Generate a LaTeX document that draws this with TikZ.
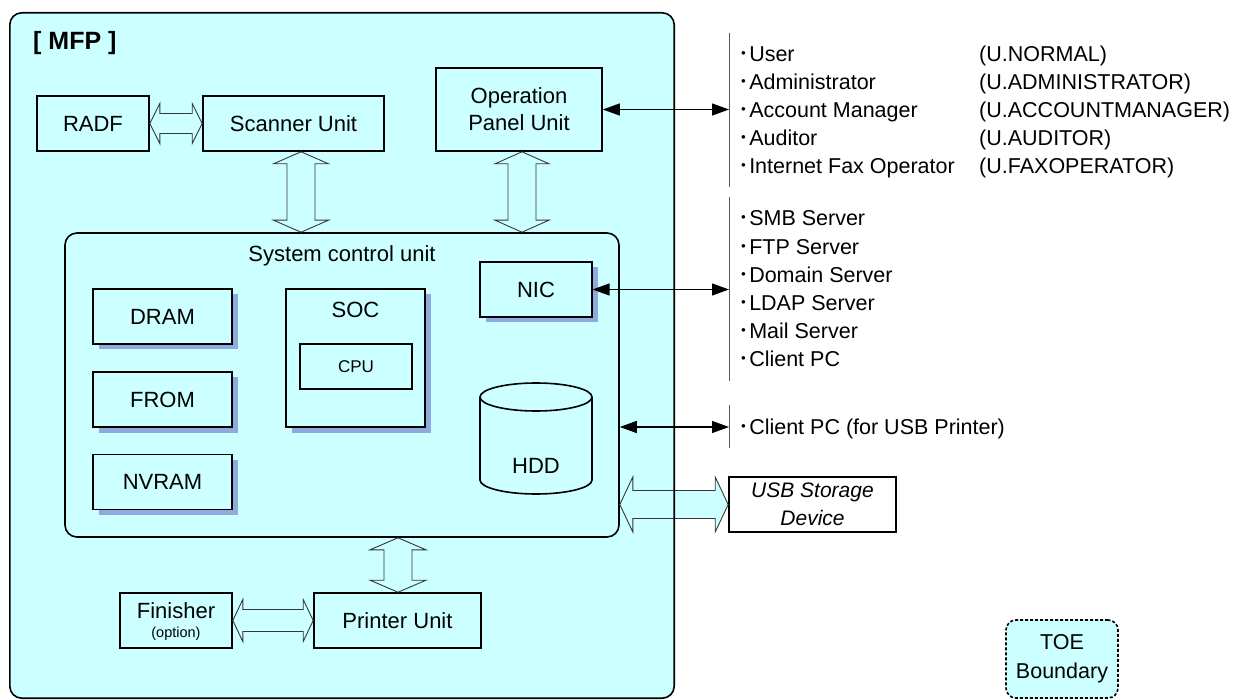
\documentclass[tikz,border=0pt]{standalone}
\usepackage{fontspec}
\setmainfont{Liberation Sans}
\newfontfamily\cjk{Noto Sans CJK JP}
\usetikzlibrary{arrows.meta,shadows,calc}
\definecolor{mfpc}{RGB}{204,255,255}
\definecolor{shc}{RGB}{143,170,220}
\definecolor{blkline}{RGB}{55,55,55}
\newcommand\fs[1]{\fontsize{#1}{#1}\selectfont}
\newcommand\bul{{\cjk ･}}
\newcommand\vblk[5]{%
 \path[blk] let \p1=#1, \p2=#2 in
  (\x1,\y1) -- (\x1+#4,\y1-#5) -- (\x1+#3,\y1-#5) -- (\x1+#3,\y2+#5) -- (\x1+#4,\y2+#5)
  -- (\x1,\y2) -- (\x1-#4,\y2+#5) -- (\x1-#3,\y2+#5) -- (\x1-#3,\y1-#5) -- (\x1-#4,\y1-#5) -- cycle;}
\newcommand\hblk[5]{%
 \path[blk] let \p1=#1, \p2=#2 in
  (\x1,\y1) -- (\x1+#5,\y1+#4) -- (\x1+#5,\y1+#3) -- (\x2-#5,\y1+#3) -- (\x2-#5,\y1+#4)
  -- (\x2,\y1) -- (\x2-#5,\y1-#4) -- (\x2-#5,\y1-#3) -- (\x1+#5,\y1-#3) -- (\x1+#5,\y1-#4) -- cycle;}
\tikzset{
 box/.style={draw=black, line width=1.6pt, fill=mfpc, inner sep=0pt, font=\fs{22}},
 ibox/.style={draw=black, line width=1.1pt, fill=mfpc, inner sep=0pt, font=\fs{22}},
 shad/.style={general shadow={fill=shc, shadow xshift=5.5pt, shadow yshift=-5.5pt}},
 lbl/.style={inner sep=0pt, font=\fs{22}},
 lst/.style={inner sep=0pt, anchor=base west, font=\fs{21.5}},
 blk/.style={draw=blkline, line width=0.9pt, fill=mfpc, line join=miter},
 dbl/.style={line width=1.2pt, {Triangle[length=17pt,width=12pt]}-{Triangle[length=17pt,width=12pt]}},
 sepline/.style={draw=black!65, line width=1pt}
}
\begin{document}
\begin{tikzpicture}[x=1pt,y=-1pt]
\useasboundingbox (0,0) rectangle (1234,700);
% MFP background
\node[fill=mfpc, minimum width=664, minimum height=685, inner sep=0pt, rounded corners=12pt] (mfp) at (342,355.5) {};
\node[lbl, anchor=base west, font=\fs{25}\bfseries] (mfpt) at (33,49.5) {[ MFP ]};

\node[box, minimum width=112, minimum height=55] (radf) at (93,123.5) {RADF};
\node[box, minimum width=181, minimum height=55] (scan) at (293.5,123.5) {Scanner Unit};
\node[box, minimum width=166, minimum height=83, align=center, font=\fontsize{22}{27}\selectfont] (op) at (519,109.5) {Operation\\Panel Unit};

% system control unit
\node[box, rounded corners=12pt, minimum width=554, minimum height=304] (scu) at (342,385) {};
\node[lbl] (scut) at (342,256) {System control unit};
\node[ibox, shad, minimum width=139, minimum height=55] (dram) at (162.5,316.5) {DRAM};
\node[ibox, shad, minimum width=139, minimum height=55] (from) at (162.5,399.5) {FROM};
\node[ibox, shad, minimum width=139, minimum height=55] (nvram) at (162.5,482) {NVRAM};
\node[ibox, shad, minimum width=139, minimum height=138] (soc) at (355.5,358) {};
\node[lbl] (soct) at (355.5,310) {SOC};
\node[ibox, minimum width=112, minimum height=45, font=\fs{17}] (cpu) at (356,366.5) {CPU};
\node[ibox, shad, minimum width=112, minimum height=55] (nic) at (536,289.5) {NIC};
% HDD cylinder
\draw[line width=1.6pt, fill=mfpc] (480,397) -- (480,480)
  .. controls (480,487.73) and (505.07,494) .. (536,494)
  .. controls (566.93,494) and (592,487.73) .. (592,480) -- (592,397)
  .. controls (592,389.27) and (566.93,383) .. (536,383)
  .. controls (505.07,383) and (480,389.27) .. (480,397) -- cycle;
\draw[line width=1.6pt] (480,397) .. controls (480,404.73) and (505.07,411) .. (536,411)
  .. controls (566.93,411) and (592,404.73) .. (592,397);
\node[lbl] (hdd) at (536,466) {HDD};

% finisher / printer
\node[box, minimum width=112, minimum height=55] (fin) at (176,620.5) {};
\node[lbl] (fint) at (176,611) {Finisher};
\node[lbl, font=\fs{14.5}] (fino) at (176,634) {(option)};
\node[box, minimum width=167, minimum height=55] (prn) at (397.5,620.5) {Printer Unit};

% USB storage
\node[box, fill=white, minimum width=167, minimum height=55, align=center, font=\fontsize{21}{28}\selectfont\itshape] (usb) at (812.5,504.5) {USB Storage\\Device};

% hollow block arrows
\coordinate (av1) at (301,0);
\coordinate (av2) at (522,0);
\coordinate (av3) at (398,0);
\vblk{(scan.south -| av1)}{(scu.north -| av1)}{14pt}{27.5pt}{12pt}
\vblk{(op.south -| av2)}{(scu.north -| av2)}{14pt}{27pt}{12pt}
\vblk{(scu.south -| av3)}{(prn.north -| av3)}{14pt}{28pt}{12pt}
\hblk{(radf.east)}{(scan.west)}{10pt}{20pt}{10pt}
\hblk{(fin.east)}{(prn.west)}{11pt}{21pt}{10pt}
\hblk{(scu.east |- usb.west)}{(usb.west)}{14pt}{27.5pt}{13pt}

% MFP border on top
\draw[line width=1.6pt, rounded corners=12pt] (mfp.north west) rectangle (mfp.south east);

% separator lines
\coordinate (l1t) at (729,33);  \coordinate (l1b) at (729,187);
\coordinate (l2t) at (729,197); \coordinate (l2b) at (729,381);
\coordinate (l3t) at (729,405); \coordinate (l3b) at (729,448);
\draw[sepline] (l1t) -- (l1b);
\draw[sepline] (l2t) -- (l2b);
\draw[sepline] (l3t) -- (l3b);

% thin arrows
\draw[dbl] (op.east) -- (op.east -| l1t);
\draw[dbl] (nic.east) -- (nic.east -| l2t);
\coordinate (cp) at (729,427);
\draw[dbl] (scu.east |- cp) -- (cp);

% user list
\node[lst] (u1) at (738.3,61.7) {\bul User};
\node[lst] (u2) at (738.3,89.7) {\bul Administrator};
\node[lst] (u3) at (738.3,117.7) {\bul Account Manager};
\node[lst] (u4) at (738.3,145.7) {\bul Auditor};
\node[lst] (u5) at (738.3,173.7) {\bul Internet Fax Operator};
\node[lst] (r1) at (979,61.7) {(U.NORMAL)};
\node[lst] (r2) at (979,89.7) {(U.ADMINISTRATOR)};
\node[lst] (r3) at (979,117.7) {(U.ACCOUNTMANAGER)};
\node[lst] (r4) at (979,145.7) {(U.AUDITOR)};
\node[lst] (r5) at (979,173.7) {(U.FAXOPERATOR)};
% server list
\node[lst] (s1) at (738.3,226) {\bul SMB Server};
\node[lst] (s2) at (738.3,254.3) {\bul FTP Server};
\node[lst] (s3) at (738.3,282.6) {\bul Domain Server};
\node[lst] (s4) at (738.3,310.5) {\bul LDAP Server};
\node[lst] (s5) at (738.3,338.5) {\bul Mail Server};
\node[lst] (s6) at (738.3,366.3) {\bul Client PC};
\node[lst] (c1) at (738.3,434.7) {\bul Client PC (for USB Printer)};

% TOE boundary legend
\node[draw, line width=1.6pt, dash pattern=on 3pt off 2pt, rounded corners=10pt, fill=mfpc,
  minimum width=112, minimum height=78, align=center, inner sep=0pt,
  font=\fontsize{21.5}{29}\selectfont] (toe) at (1062,659) {TOE\\Boundary};
\end{tikzpicture}
\end{document}
